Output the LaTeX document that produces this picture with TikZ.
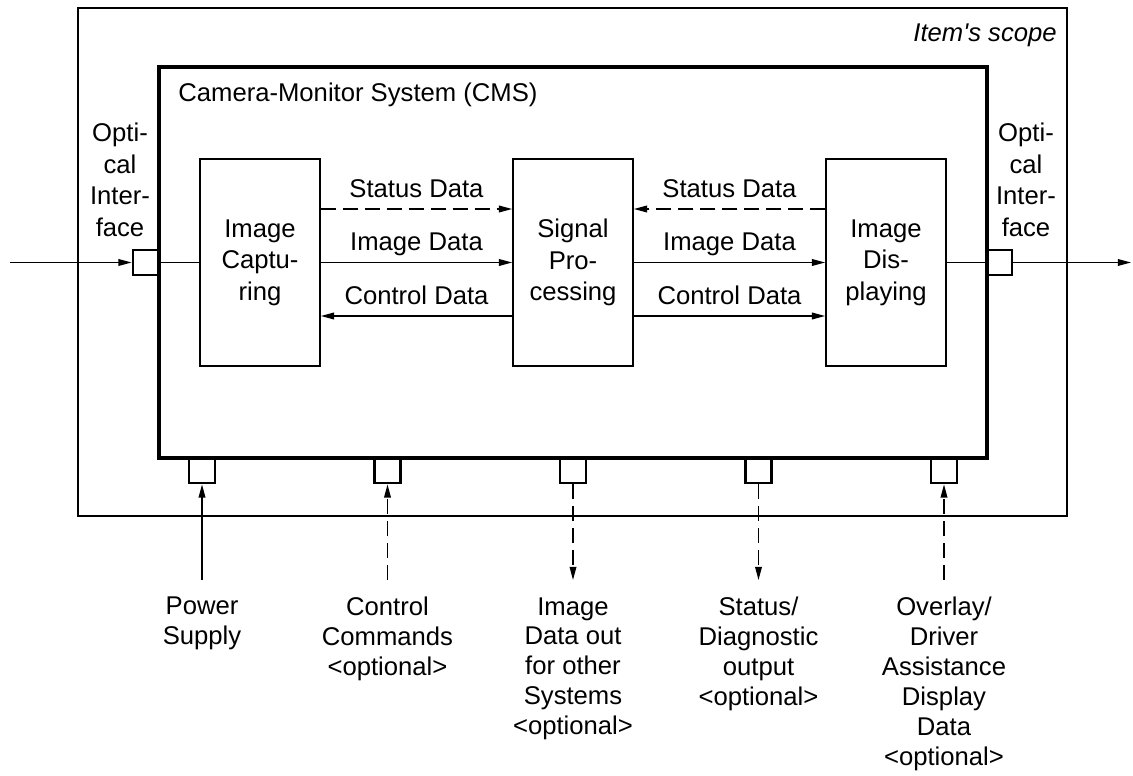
\documentclass[tikz,border=0pt]{standalone}
\usepackage{fontspec}
\setmainfont{Liberation Sans}
\usepackage{tikz}
\usetikzlibrary{positioning,calc,arrows.meta}
\definecolor{CmsInk}{HTML}{000000}

\begin{document}
\begin{tikzpicture}[x=0.02cm, y=-0.02cm,
    font=\fontsize{14.6}{18}\selectfont,
    blk/.style={draw=CmsInk, line width=1pt, minimum width=2.4cm, minimum height=4.14cm, align=center, inner sep=0pt},
    port/.style={draw=CmsInk, line width=1.6pt, minimum width=0.52cm, minimum height=0.5cm, inner sep=0pt},
    ln/.style={draw=CmsInk, line width=0.8pt},
    arr/.style={ln, -{Triangle[length=7.5pt,width=3.8pt]}},
    dsh/.style={dash pattern=on 8.5pt off 4pt},
    lab/.style={inner sep=0pt, text height=10.4pt, text depth=0pt, yshift=0.42cm},
    txt/.style={align=center, inner sep=0pt},
    btxt/.style={txt, anchor=north, font=\fontsize{14.6}{17}\selectfont}]
  \useasboundingbox (0,0) rectangle (1133,776);

  %% Item's scope and CMS boundary
  \draw[CmsInk, line width=0.8pt] (78,8) rectangle (1067,516);
  \draw[CmsInk, line width=1.8pt] (159,67) rectangle (987,458);
  \node[anchor=east, font=\fontsize{14.6}{18}\selectfont\itshape, inner sep=0pt] (scopelbl) at (1057,35) {Item\textquotesingle s scope};
  \node[anchor=west, inner sep=0pt] (cmslbl) at (178,95) {Camera-Monitor System (CMS)};

  %% Function blocks
  \node[blk] (ic) at (260,262.5) {Image\\Captu-\\ring};
  \node[blk] (sp) at (573,262.5) {Signal\\Pro-\\cessing};
  \node[blk] (id) at (886,262.5) {Image\\Dis-\\playing};

  %% Optical interfaces
  \node[port] (pl) at (146,262.5) {};
  \node[port] (pr) at (999,262.5) {};
  \node[txt] (optl) at (120,180) {Opti-\\cal\\Inter-\\face};
  \node[txt] (optr) at (1026,180) {Opti-\\cal\\Inter-\\face};
  \coordinate (inL) at (10,262.5);
  \coordinate (outR) at (1131,262.5);
  \draw[arr] (inL) -- (pl.west);
  \draw[ln] (pl.east) -- (ic.west);
  \draw[ln] (id.east) -- (pr.west);
  \draw[arr] (pr.east) -- (outR);

  %% Data flows between blocks
  \draw[arr, dsh] ($(ic.east)+(0,-53.5)$) -- ($(sp.west)+(0,-53.5)$) node[midway, lab] {Status Data};
  \draw[arr] (ic.east) -- (sp.west) node[midway, lab] {Image Data};
  \draw[arr] ($(sp.west)+(0,53.5)$) -- ($(ic.east)+(0,53.5)$) node[midway, lab] {Control Data};
  \draw[arr, dsh] ($(id.west)+(0,-53.5)$) -- ($(sp.east)+(0,-53.5)$) node[midway, lab] {Status Data};
  \draw[arr] (sp.east) -- (id.west) node[midway, lab] {Image Data};
  \draw[arr] ($(sp.east)+(0,53.5)$) -- ($(id.west)+(0,53.5)$) node[midway, lab] {Control Data};

  %% Bottom interfaces
  \foreach \n/\x in {1/202, 2/387.5, 3/573, 4/758.5, 5/944} {
    \node[port] (pb\n) at (\x,470.5) {};
    \coordinate (b\n) at (\x,580);
  }
  \draw[arr] (b1) -- (pb1.south);
  \draw[arr, dsh] (b2) -- (pb2.south);
  \draw[arr, dsh] (pb3.south) -- (b3);
  \draw[arr, dsh] (pb4.south) -- (b4);
  \draw[arr, dsh] (b5) -- (pb5.south);

  \node[btxt] (t1) at (202,597) {Power\\Supply};
  \node[btxt] (t2) at (387.5,597) {Control\\Commands\\<optional>};
  \node[btxt] (t3) at (573,597) {Image\\Data out\\for other\\Systems\\<optional>};
  \node[btxt] (t4) at (758.5,597) {Status/\\Diagnostic\\output\\<optional>};
  \node[btxt] (t5) at (944,597) {Overlay/\\Driver\\Assistance\\Display\\Data\\<optional>};
\end{tikzpicture}
\end{document}
